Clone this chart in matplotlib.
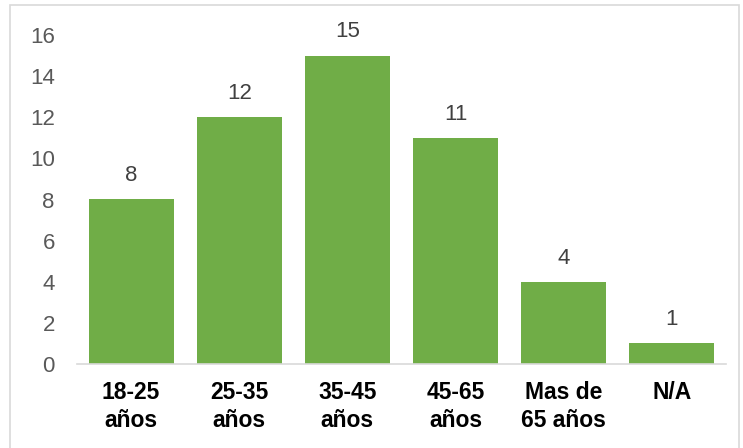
import matplotlib.pyplot as plt
from matplotlib.patches import Rectangle

categories = ['18-25\naños', '25-35\naños', '35-45\naños', '45-65\naños', 'Mas de\n65 años', 'N/A']
values = [8, 12, 15, 11, 4, 1]
yticks = [0, 2, 4, 6, 8, 10, 12, 14, 16]

plt.rcParams['font.family'] = ['Liberation Sans', 'DejaVu Sans']

fig = plt.figure(figsize=(7.43, 4.48), dpi=100)
ax = fig.add_axes([77 / 743, 1 - 364 / 448, 649 / 743, 329 / 448])

x = range(len(categories))
bars = ax.bar(x, values, width=0.785, color='#70AD47')

for b, v in zip(bars, values):
    ax.text(b.get_x() + b.get_width() / 2, v + 1.15, str(v),
            ha='center', va='center', fontsize=16, color='#404040')

ax.set_xlim(-0.5, len(categories) - 0.5)
ax.set_ylim(0, 16)
ax.set_yticks(yticks)
ax.set_xticks(list(x))
ax.set_xticklabels(categories, fontsize=16.5, fontweight='bold', color='black', linespacing=1.3)
ax.tick_params(axis='y', labelsize=16, labelcolor='#595959', length=0, pad=16)
ax.tick_params(axis='x', length=0, pad=12)

for s in ['top', 'right', 'left']:
    ax.spines[s].set_visible(False)
ax.spines['bottom'].set_color('#D9D9D9')
ax.spines['bottom'].set_linewidth(1.2)

# outer chart border
fig.patches.append(Rectangle((10 / 743, -0.01), 729 / 743, 1 - 5 / 448 + 0.01,
                             transform=fig.transFigure, fill=False,
                             edgecolor='#D9D9D9', linewidth=1.2))

fig.savefig('out.png', dpi=100)
